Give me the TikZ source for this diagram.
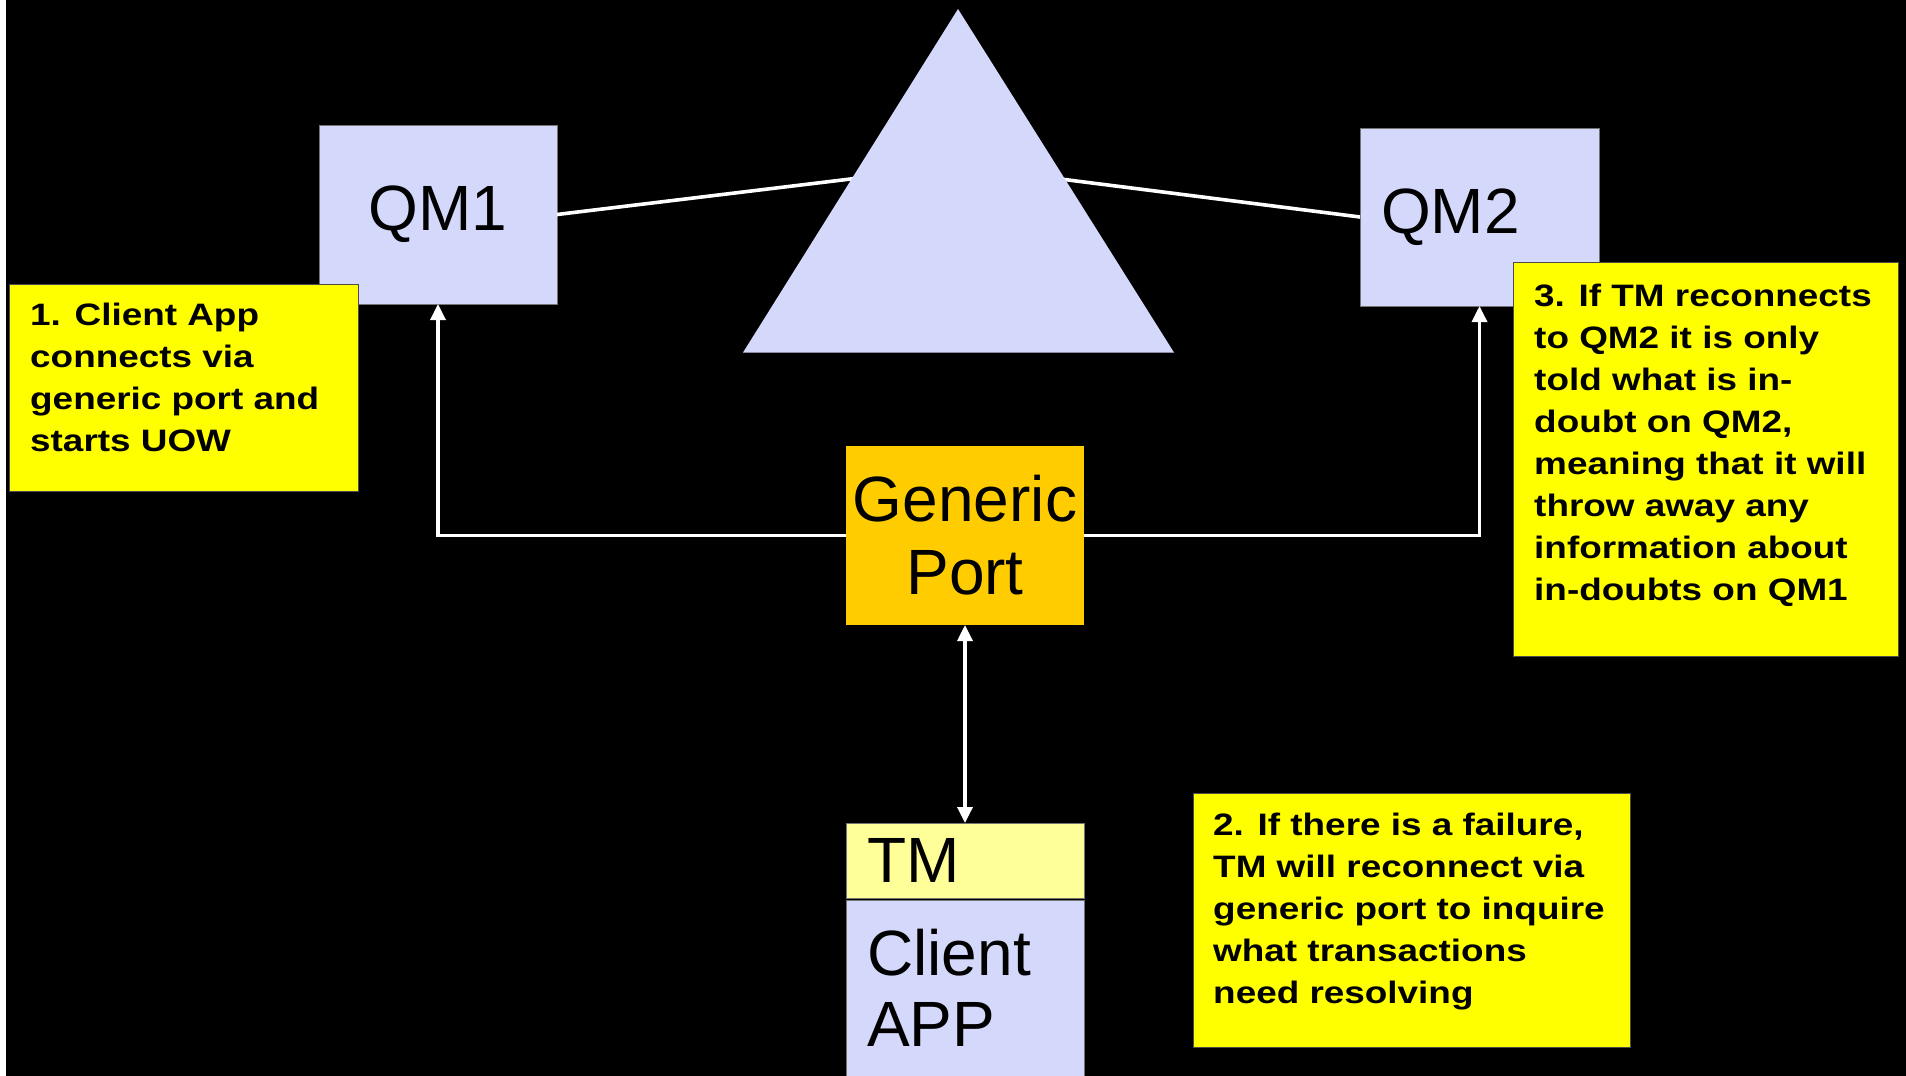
\documentclass[tikz,border=0pt]{standalone}
\usepackage{fontspec}
\setmainfont{Liberation Sans}
\newfontfamily\notefont[FakeStretch=1.19]{Liberation Sans}
\usetikzlibrary{arrows.meta}
\definecolor{lav}{RGB}{212,217,252}
\definecolor{gpcol}{RGB}{255,204,0}
\definecolor{tmcol}{RGB}{255,255,153}
\definecolor{notecol}{RGB}{255,255,0}
\begin{document}
\begin{tikzpicture}[x=1pt,y=-1pt,
  box/.style={draw=black!55, line width=0.8pt, inner sep=0pt, outer sep=0pt},
  notebox/.style={fill=notecol, draw=black!70, line width=1pt, inner sep=0pt, outer sep=0pt},
  notetext/.style={anchor=north west, inner sep=0pt, align=left,
    font=\notefont\fontsize{31}{42}\selectfont\bfseries},
  big/.style={font=\fontsize{64}{72}\selectfont},
  wire/.style={white, line width=3.6pt},
  arr/.style={white, line width=3.4pt, -{Triangle[length=16pt,width=15pt]}},
  darr/.style={white, line width=3.4pt, {Triangle[length=16pt,width=15pt]}-{Triangle[length=16pt,width=15pt]}},
]
% background
\fill[white] (0,0) rectangle (1906,1076);
\fill[black] (6,0) rectangle (1906,1076);
\useasboundingbox (0,0) rectangle (1906,1076);

% queue managers
\node[box, fill=lav, minimum width=238pt, minimum height=179pt, big] (qm1) at (438,214.5) {QM1};
\node[box, fill=lav, minimum height=178pt, text width=197pt, inner xsep=21pt, align=left, big] (qm2) at (1479.5,217) {QM2};

% links to the shared hub (behind the triangle)
\coordinate (hub) at (958,166);
\draw[wire] (qm1.east) -- (hub) -- (qm2.west);

% triangle
\fill[lav] (958,9) -- (1174,352.5) -- (743,352.5) -- cycle;

% generic port
\node[box, fill=gpcol, draw=none, minimum width=238pt, minimum height=179pt, align=center, font=\fontsize{64}{73}\selectfont] (gp) at (965,535.5) {Generic\\Port};

% TM and client app
\node[box, fill=tmcol, minimum height=75pt, text width=196pt, inner xsep=21pt, align=left, big] (tm) at (965,860.5) {TM};
\node[box, fill=lav, minimum width=238pt, minimum height=200pt, anchor=north] (app) at (965,900) {};
\node[anchor=north west, align=left, inner sep=0pt, font=\fontsize{64}{71}\selectfont] (apptext) at (867,928.5) {Client\\APP};

% connectors
\draw[arr] (gp.west) -| (qm1.south);
\draw[arr] (gp.east) -| (qm2.south);
\draw[darr] (gp.south) -- (tm.north);

% notes
\node[notebox, minimum width=349pt, minimum height=207pt, anchor=north west] (n1) at (9,284) {};
\node[notetext] (n1t) at (30,302.5) {1. Client App\\connects via\\generic port and\\starts UOW};

\node[notebox, minimum width=385pt, minimum height=394pt, anchor=north west] (n3) at (1513,262) {};
\node[notetext] (n3t) at (1534,283.5) {3. If TM reconnects\\to QM2 it is only\\told what is in-\\doubt on QM2,\\meaning that it will\\throw away any\\information about\\in-doubts on QM1};

\node[notebox, minimum width=437pt, minimum height=254pt, anchor=north west] (n2) at (1193,793) {};
\node[notetext] (n2t) at (1213,812.5) {2. If there is a failure,\\TM will reconnect via\\generic port to inquire\\what transactions\\need resolving};
\end{tikzpicture}
\end{document}
